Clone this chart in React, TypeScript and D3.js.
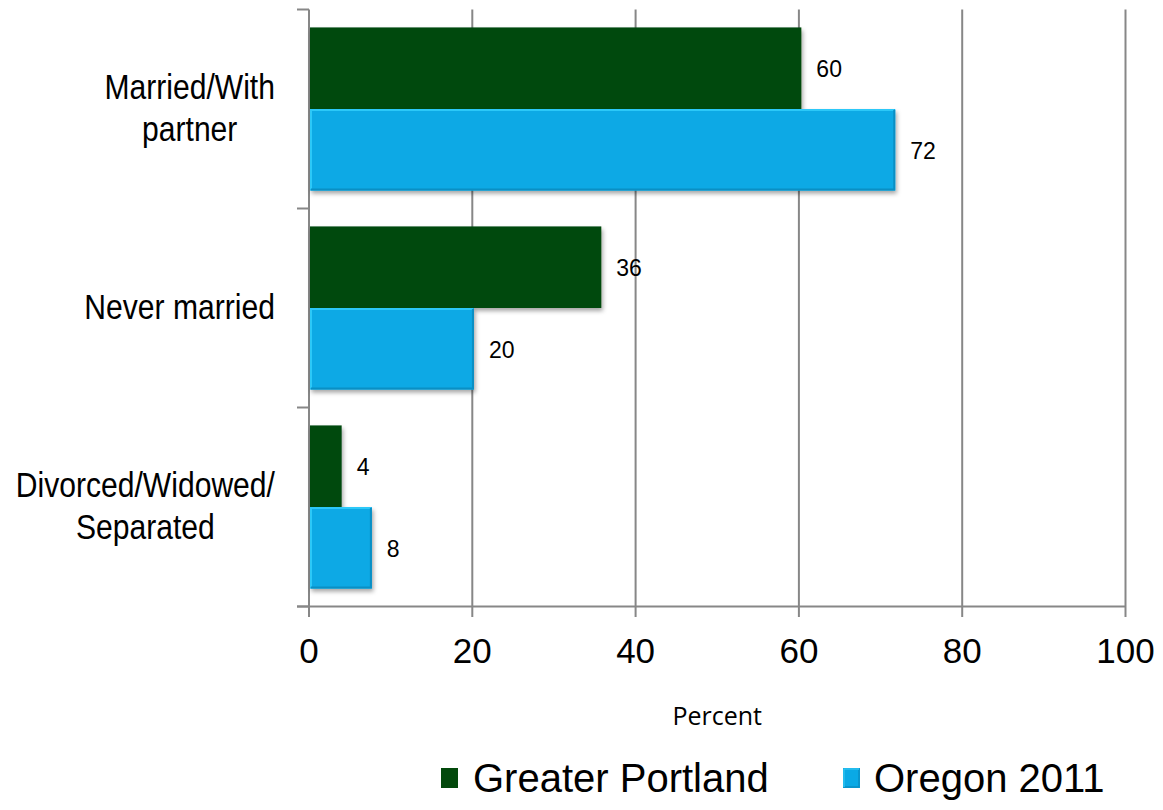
import React, { useEffect, useRef } from "react";
import * as d3 from "d3";

const categories = ["Married/With\npartner", "Never married", "Divorced/Widowed/\nSeparated"];
const seriesNames = ["Greater Portland", "Oregon 2011"];
const greaterPortland = [60.3, 35.8, 4.0];
const oregon2011 = [71.8, 20.2, 7.7];
const xTicks = [0, 20, 40, 60, 80, 100];
const xAxisTitle = "Percent";

const GREEN = "#03490c";
const BLUE = "#0aa9e5";

export default function App() {
  const ref = useRef<SVGSVGElement>(null);

  useEffect(() => {
    const svg = d3.select(ref.current as SVGSVGElement);
    svg.selectAll("*").remove();

    const left = 309, right = 1125.5, top = 9.5, bottom = 606.5;
    const x = d3.scaleLinear().domain([0, 100]).range([left, right]);
    const y = d3.scaleBand<string>().domain(categories).range([top, bottom]).paddingInner(0.18).paddingOuter(0.09);
    const ySub = d3.scaleBand<string>().domain(seriesNames).range([0, y.bandwidth()]);
    const fmt = d3.format(".0f");

    const defs = svg.append("defs");
    const f = defs.append("filter").attr("id", "shadow").attr("x", "-10%").attr("y", "-10%").attr("width", "130%").attr("height", "140%");
    f.append("feDropShadow").attr("dx", 1.5).attr("dy", 3).attr("stdDeviation", 2).attr("flood-color", "#000").attr("flood-opacity", 0.35);

    // gridlines
    const gridColor = "#878787";
    svg.append("g").selectAll("line").data(xTicks.filter((d) => d > 0)).join("line")
      .attr("x1", (d) => x(d)).attr("x2", (d) => x(d))
      .attr("y1", top).attr("y2", bottom + 10.5)
      .attr("stroke", gridColor).attr("stroke-width", 2);

    // axes lines
    const ax = svg.append("g");
    ax.append("line").attr("x1", left).attr("x2", left).attr("y1", top).attr("y2", bottom + 10.5).attr("stroke", gridColor).attr("stroke-width", 2);
    ax.append("line").attr("x1", left - 12).attr("x2", right).attr("y1", bottom).attr("y2", bottom).attr("stroke", gridColor).attr("stroke-width", 2);
    const boundaries = [top, ...categories.map((c) => (y(c) as number) + y.bandwidth() + y.step() * 0.09)];
    ax.selectAll("line.yt").data(boundaries).join("line").attr("class", "yt")
      .attr("x1", left - 12).attr("x2", left).attr("y1", (d) => d).attr("y2", (d) => d)
      .attr("stroke", gridColor).attr("stroke-width", 2);

    // bars
    const series = [
      { name: seriesNames[0], values: greaterPortland, color: GREEN },
      { name: seriesNames[1], values: oregon2011, color: BLUE },
    ];
    const bars = svg.append("g");
    series.forEach((s) => {
      s.values.forEach((v, i) => {
        const cat = categories[i];
        const by = (y(cat) as number) + (ySub(s.name) as number);
        const bh = ySub.bandwidth();
        const bx = x(0) + 1;
        const bw = x(v) - x(0) - 1;
        const g = bars.append("g");
        g.append("rect").attr("x", bx).attr("y", by).attr("width", bw).attr("height", bh)
          .attr("fill", s.color).attr("filter", "url(#shadow)");
        if (s.color === BLUE) {
          g.append("polyline")
            .attr("points", `${bx + 1},${by + bh - 1} ${bx + 1},${by + 1} ${bx + bw - 1},${by + 1}`)
            .attr("fill", "none").attr("stroke", "#2cc8f8").attr("stroke-width", 2);
          g.append("polyline")
            .attr("points", `${bx + 1},${by + bh - 1} ${bx + bw - 1},${by + bh - 1} ${bx + bw - 1},${by + 1}`)
            .attr("fill", "none").attr("stroke", "#0a8fc4").attr("stroke-width", 2);
        }
        g.append("text").attr("x", x(v) + 15).attr("y", by + bh / 2 + 9)
          .attr("font-family", "Liberation Sans, Arial, sans-serif").attr("font-size", 23).attr("fill", "#000")
          .text(fmt(v));
      });
    });

    // x tick labels
    svg.append("g").selectAll("text").data(xTicks).join("text")
      .attr("x", (d) => x(d)).attr("y", bottom + 56.5).attr("text-anchor", "middle")
      .attr("font-family", "Liberation Sans, Arial, sans-serif").attr("font-size", 35).attr("fill", "#000")
      .text((d) => String(d));

    // x axis title
    svg.append("text").attr("x", (left + right) / 2).attr("y", 725).attr("text-anchor", "middle")
      .attr("font-family", "Open Sans, sans-serif").attr("font-size", 25).attr("fill", "#000").text(xAxisTitle);

    // category labels
    const sx = 0.86;
    const labelRight = 275;
    categories.forEach((c) => {
      const lines = c.split("\n");
      const center = (y(c) as number) + y.bandwidth() / 2;
      const n = lines.length;
      const g = svg.append("g");
      const texts = lines.map((ln, i) => {
        const by = center + 11 - (n - 1) * 21 + i * 42;
        return g.append("text").attr("text-anchor", "middle")
          .attr("font-family", "Liberation Sans, Arial, sans-serif").attr("font-size", 35).attr("fill", "#000")
          .attr("data-by", by).text(ln);
      });
      const widths = texts.map((t) => (t.node() as SVGTextElement).getComputedTextLength() * sx);
      const maxW = d3.max(widths) || 0;
      const cx = labelRight - maxW / 2;
      texts.forEach((t) => {
        const by = +t.attr("data-by");
        t.attr("transform", `translate(${cx},${by}) scale(${sx},1)`);
      });
    });

    // legend
    const legend = svg.append("g");
    const legendItems = [
      { name: seriesNames[0], color: GREEN, sx: 441, tx: 473 },
      { name: seriesNames[1], color: BLUE, sx: 843, tx: 874 },
    ];
    legendItems.forEach((it) => {
      legend.append("rect").attr("x", it.sx).attr("y", 768).attr("width", 17).attr("height", 20).attr("fill", it.color);
      if (it.color === BLUE) {
        legend.append("rect").attr("x", it.sx + 1).attr("y", 769).attr("width", 15).attr("height", 18)
          .attr("fill", "none").attr("stroke", "#0a8fc4").attr("stroke-width", 1.5);
        legend.append("polyline").attr("points", `${it.sx + 1},${787} ${it.sx + 1},${769} ${it.sx + 16},${769}`)
          .attr("fill", "none").attr("stroke", "#2cc8f8").attr("stroke-width", 1.5);
      }
      legend.append("text").attr("x", it.tx).attr("y", 792)
        .attr("font-family", "Liberation Sans, Arial, sans-serif").attr("font-size", 40).attr("fill", "#000").text(it.name);
    });
  }, []);

  return (
    <svg ref={ref} width={1163} height={810}
      style={{ position: "absolute", left: 0, top: 0, background: "#fff", display: "block" }} />
  );
}
